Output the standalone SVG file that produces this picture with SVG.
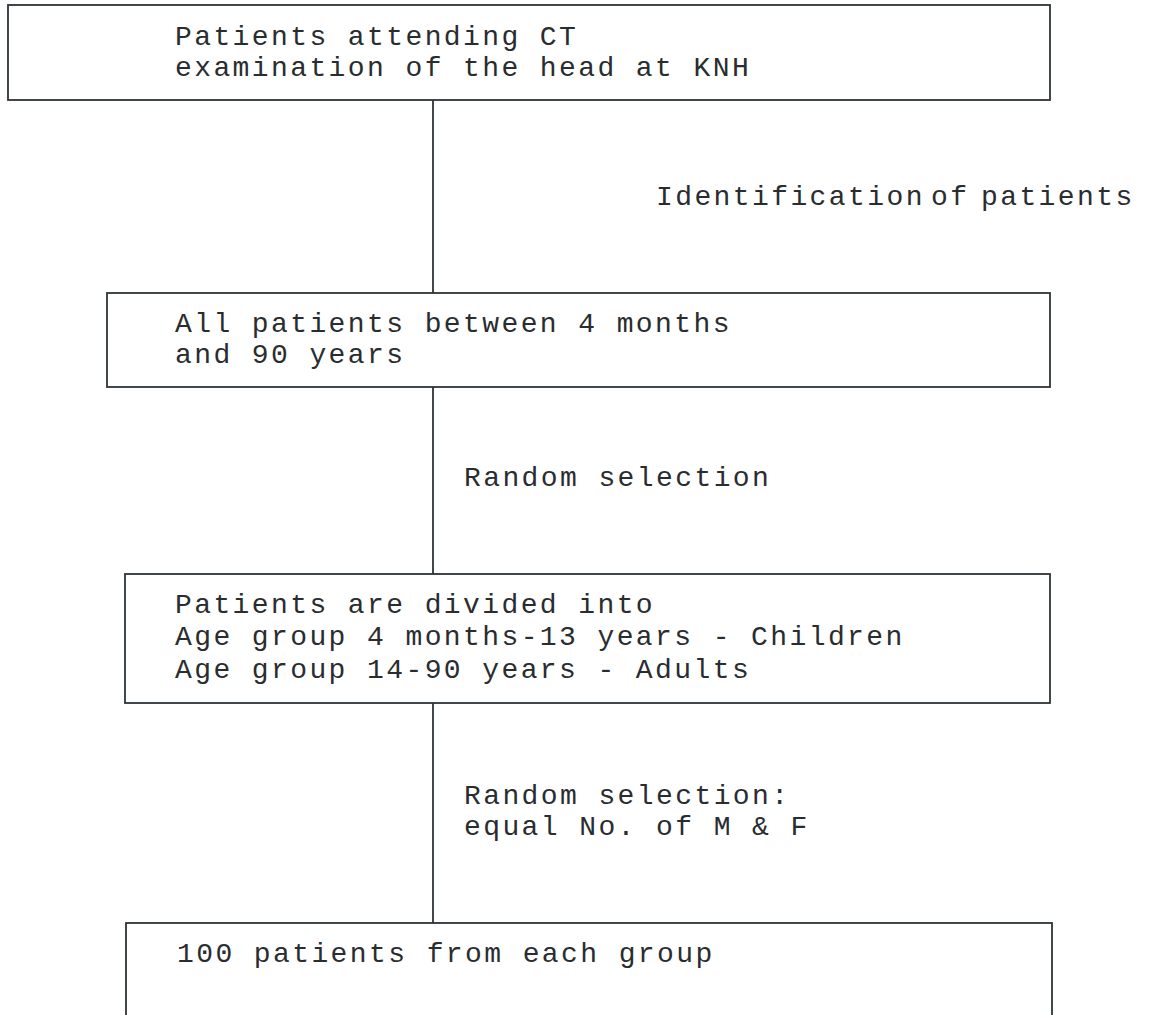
<svg xmlns="http://www.w3.org/2000/svg" width="1150" height="1015" viewBox="0 0 1150 1015">
<style>
.box{fill:#fff;stroke:#2e3338;stroke-width:1.8}
.edge{stroke:#2e3338;stroke-width:1.8;fill:none}
text{font-family:"Liberation Mono","Courier New",monospace;font-size:28px;letter-spacing:2.4px;fill:#2a2d30}
</style>
<rect x="0" y="0" width="1150" height="1015" fill="#fff"/>
<g id="connectors">
<line class="edge" x1="433" y1="100" x2="433" y2="293"/>
<line class="edge" x1="433" y1="387" x2="433" y2="574"/>
<line class="edge" x1="433" y1="703" x2="433" y2="923"/>
</g>
<g id="node1">
<rect class="box" x="8" y="5" width="1042" height="95"/>
<text x="175" y="45">Patients attending CT</text>
<text x="175" y="76">examination of the head at KNH</text>
</g>
<g id="label1">
<text x="656" y="205">Identification</text>
<text x="931" y="205">of</text>
<text x="981" y="205">patients</text>
</g>
<g id="node2">
<rect class="box" x="107" y="293" width="943" height="94"/>
<text x="175" y="332">All patients between 4 months</text>
<text x="175" y="363">and 90 years</text>
</g>
<g id="label2">
<text x="464" y="486">Random selection</text>
</g>
<g id="node3">
<rect class="box" x="125" y="574" width="925" height="129"/>
<text x="175" y="613">Patients are divided into</text>
<text x="175" y="645">Age group 4 months-13 years - Children</text>
<text x="175" y="678">Age group 14-90 years - Adults</text>
</g>
<g id="label3">
<text x="464" y="804">Random selection:</text>
<text x="464" y="835">equal No. of M &amp; F</text>
</g>
<g id="node4">
<rect class="box" x="126" y="923" width="926" height="110"/>
<text x="177" y="962">100 patients from each group</text>
</g>
</svg>
